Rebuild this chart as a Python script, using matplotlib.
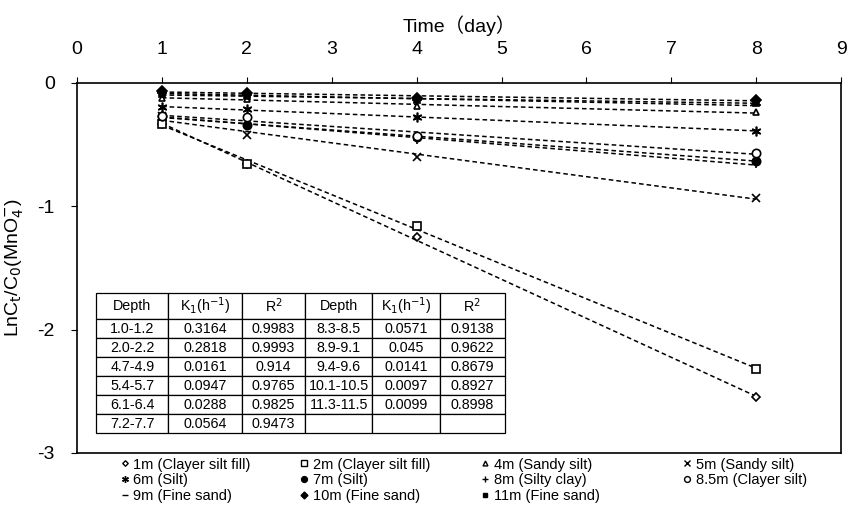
import numpy as np
import matplotlib.pyplot as plt
from matplotlib.lines import Line2D

plt.rcParams['font.family'] = ['Liberation Sans', 'Noto Sans CJK SC', 'DejaVu Sans']

# sampling times (day)
days = np.array([1, 2, 4, 8])

# LnCt/C0, one list per depth
labels = ['1m (Clayer silt fill)', '2m (Clayer silt fill)', '4m (Sandy silt)', '5m (Sandy silt)',
          '6m (Silt)', '7m (Silt)', '8m (Silty clay)', '8.5m (Clayer silt)',
          '9m (Fine sand)', '10m (Fine sand)', '11m (Fine sand)']
v_1m = [-0.33, -0.66, -1.25, -2.55]
v_2m = [-0.33, -0.66, -1.16, -2.32]
v_4m = [-0.12, -0.13, -0.19, -0.24]
v_5m = [-0.27, -0.42, -0.60, -0.93]
v_6m = [-0.20, -0.21, -0.28, -0.39]
v_7m = [-0.27, -0.34, -0.44, -0.63]
v_8m = [-0.27, -0.33, -0.46, -0.66]
v_85m = [-0.27, -0.28, -0.43, -0.57]
v_9m = [-0.08, -0.10, -0.14, -0.18]
v_10m = [-0.07, -0.08, -0.12, -0.14]
v_11m = [-0.09, -0.11, -0.14, -0.16]
values = [v_1m, v_2m, v_4m, v_5m, v_6m, v_7m, v_8m, v_85m, v_9m, v_10m, v_11m]

# fitted rate table
tbl_header = ['Depth', 'K$_1$(h$^{-1}$)', 'R$^2$', 'Depth', 'K$_1$(h$^{-1}$)', 'R$^2$']
depth_a = ['1.0-1.2', '2.0-2.2', '4.7-4.9', '5.4-5.7', '6.1-6.4', '7.2-7.7']
k_a = ['0.3164', '0.2818', '0.0161', '0.0947', '0.0288', '0.0564']
r2_a = ['0.9983', '0.9993', '0.914', '0.9765', '0.9825', '0.9473']
depth_b = ['8.3-8.5', '8.9-9.1', '9.4-9.6', '10.1-10.5', '11.3-11.5', '']
k_b = ['0.0571', '0.045', '0.0141', '0.0097', '0.0099', '']
r2_b = ['0.9138', '0.9622', '0.8679', '0.8927', '0.8998', '']

# marker styles: (marker, filled, size)
styles = [('D', False, 4), ('s', False, 6), ('^', False, 5), ('x', True, 6),
          ((6, 2, 0), True, 7), ('o', True, 6), ('+', True, 6), ('o', False, 6),
          ('_', True, 7), ('D', True, 5), ('s', True, 5)]

fig = plt.figure(figsize=(8.47, 5.05), dpi=100)
ax = fig.add_axes([0.091, 0.103, 0.902, 0.733])

handles = []
for lab, vals, (m, filled, ms) in zip(labels, values, styles):
    vals = np.array(vals)
    k, b = np.polyfit(days, vals, 1)
    xx = np.array([1, 8])
    ax.plot(xx, k * xx + b, color='black', lw=1.1, dashes=(3, 2), zorder=2)
    fc = 'black' if filled else 'white'
    ax.plot(days, vals, linestyle='none', marker=m, ms=ms, mfc=fc, mec='black',
            mew=1.2, zorder=3)
    handles.append(Line2D([], [], linestyle='none', marker=m, ms=ms * 0.7, mfc=fc,
                          mec='black', mew=1.0, label=lab))

ax.set_xlim(0, 9)
ax.set_ylim(-3, 0)
ax.xaxis.tick_top()
ax.xaxis.set_label_position('top')
ax.set_xticks(range(10))
ax.set_yticks([0, -1, -2, -3])
ax.set_yticklabels(['0', '-1', '-2', '-3'])
ax.tick_params(axis='x', direction='out', length=4, pad=14, labelsize=14)
ax.tick_params(axis='y', direction='out', length=4, pad=12, labelsize=14)
ax.set_xlabel('Time（day）', fontsize=14, labelpad=6)
ax.set_ylabel(r'LnC$_\mathrm{t}$/C$_0$(MnO$_4^{-}$)', fontsize=14, labelpad=8)
for s in ax.spines.values():
    s.set_linewidth(1.2)

# table inside the plot
cells = [tbl_header] + [list(r) for r in zip(depth_a, k_a, r2_a, depth_b, k_b, r2_b)]
tb = ax.table(cellText=cells, cellLoc='center', bbox=[0.025, 0.054, 0.535, 0.378],
              colWidths=[72, 73, 63, 67, 67, 65])
tb.auto_set_font_size(False)
tb.set_fontsize(10.3)
for (r, c), cell in tb.get_celld().items():
    cell.set_height(26 if r == 0 else 19)
    cell.set_linewidth(0.9)
    cell.set_edgecolor('black')
    cell.set_facecolor('white')
    cell.PAD = 0.02
    cell.set_zorder(5)

# legend below, one block per column
col_x = [0.142, 0.354, 0.568, 0.806]
col_items = [[0, 4, 8], [1, 5, 9], [2, 6, 10], [3, 7]]
for cx, items in zip(col_x, col_items):
    fig.legend([handles[i] for i in items], [labels[i] for i in items],
               loc='upper left', bbox_to_anchor=(cx, 0.094), ncol=1, frameon=False,
               handlelength=0.6, handletextpad=0.3, labelspacing=0.12,
               borderpad=0, borderaxespad=0, prop={'size': 10.5})

fig.savefig('out.png', dpi=100)
